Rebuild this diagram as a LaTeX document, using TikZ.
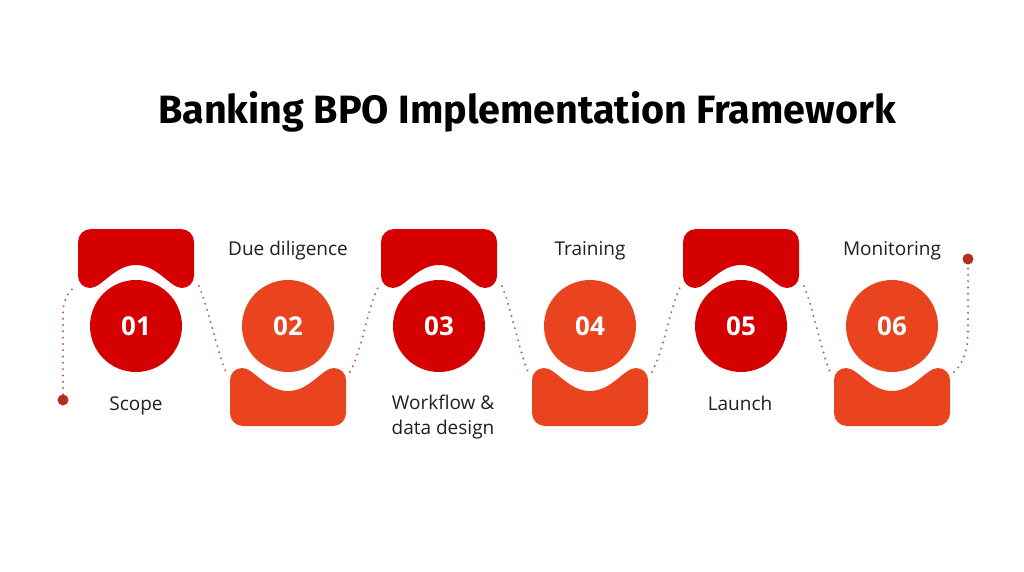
\documentclass[tikz,border=0pt]{standalone}
\usepackage{fontspec}
\setmainfont{Open Sans}
\newfontfamily\titlefont{Fira Sans}
\definecolor{rdA}{HTML}{D50000}
\definecolor{rdB}{HTML}{E9431F}
\definecolor{dotc}{HTML}{B32E1E}
\definecolor{linec}{HTML}{C25A4F}
\newcommand\TopTab[3]{%
  \fill[#2] ({#1-46},288) .. controls ({#1-52.6},288) and ({#1-58},282.6) .. ({#1-58},276) -- ({#1-58},242)
    .. controls ({#1-58},234.8) and ({#1-52.2},229) .. ({#1-45},229) -- ({#1+45},229)
    .. controls ({#1+52.2},229) and ({#1+58},234.8) .. ({#1+58},242) -- ({#1+58},276)
    .. controls ({#1+58},282.6) and ({#1+52.6},288) .. ({#1+46},288)
    .. controls ({#1+34},288) and ({#1+22},265) .. ({#1},265)
    .. controls ({#1-22},265) and ({#1-34},288) .. ({#1-46},288) -- cycle;
  \coordinate (tl#3) at ({#1-60},285);
  \coordinate (tr#3) at ({#1+63},286);
}
\newcommand\BotTab[3]{%
  \fill[#2] ({#1-46},368) .. controls ({#1-52.6},368) and ({#1-58},373.4) .. ({#1-58},380) -- ({#1-58},413)
    .. controls ({#1-58},420.2) and ({#1-52.2},426) .. ({#1-45},426) -- ({#1+45},426)
    .. controls ({#1+52.2},426) and ({#1+58},420.2) .. ({#1+58},413) -- ({#1+58},380)
    .. controls ({#1+58},373.4) and ({#1+52.6},368) .. ({#1+46},368)
    .. controls ({#1+34},368) and ({#1+22},391) .. ({#1},391)
    .. controls ({#1-22},391) and ({#1-34},368) .. ({#1-46},368) -- cycle;
  \coordinate (bl#3) at ({#1-62},372);
  \coordinate (br#3) at ({#1+62},372);
}
\begin{document}
\begin{tikzpicture}[x=1pt,y=-1pt,
  num/.style={circle, minimum size=92pt, inner sep=0pt, text=white, font=\fontsize{26}{30}\selectfont\bfseries},
  lab/.style={font=\fontsize{19}{25}\selectfont, text=black!88, align=center},
  dotline/.style={draw=linec, line width=2.2pt, line cap=round, dash pattern=on 0pt off 6.3pt},
  enddot/.style={circle, fill=dotc, minimum size=11pt, inner sep=0pt}]
\useasboundingbox[fill=white] (0,0) rectangle (1024,572);

\node[font=\titlefont\fontsize{39.5}{48}\selectfont\bfseries] (title) at (527,112) {Banking BPO Implementation Framework};

\TopTab{136}{rdA}{1}
\BotTab{288}{rdB}{2}
\TopTab{439}{rdA}{3}
\BotTab{590}{rdB}{4}
\TopTab{741}{rdA}{5}
\BotTab{892}{rdB}{6}

\node[num, fill=rdA] (c1) at (136,326) {01};
\node[num, fill=rdB] (c2) at (288,326) {02};
\node[num, fill=rdA] (c3) at (439,326) {03};
\node[num, fill=rdB] (c4) at (590,326) {04};
\node[num, fill=rdA] (c5) at (741,326) {05};
\node[num, fill=rdB] (c6) at (892,326) {06};

\node[enddot] (sd) at (63,400) {};
\node[enddot] (ed) at (968,259) {};

\draw[dotline] (sd.north) -- ++(0,-78) .. controls +(0,-18) and +(-8,8) .. (tl1);
\draw[dotline] (tr1) .. controls +(10,25) and +(-10,-25) .. (bl2);
\draw[dotline] (br2) .. controls +(12,-22) and +(-12,25) .. (tl3);
\draw[dotline] (tr3) .. controls +(10,25) and +(-10,-25) .. (bl4);
\draw[dotline] (br4) .. controls +(12,-22) and +(-12,25) .. (tl5);
\draw[dotline] (tr5) .. controls +(10,25) and +(-10,-25) .. (bl6);
\draw[dotline] (br6) .. controls +(10,-8) and +(0,18) .. (968,330) -- (ed.south);

\node[lab, anchor=base] (l1) at (136,410) {Scope};
\node[lab, anchor=base] (l2) at (288,255) {Due diligence};
\node[lab] (l3) at (443,417) {Workflow \&\\data design};
\node[lab, anchor=base] (l4) at (590,255) {Training};
\node[lab, anchor=base] (l5) at (740,410) {Launch};
\node[lab, anchor=base] (l6) at (892,255) {Monitoring};
\end{tikzpicture}
\end{document}
